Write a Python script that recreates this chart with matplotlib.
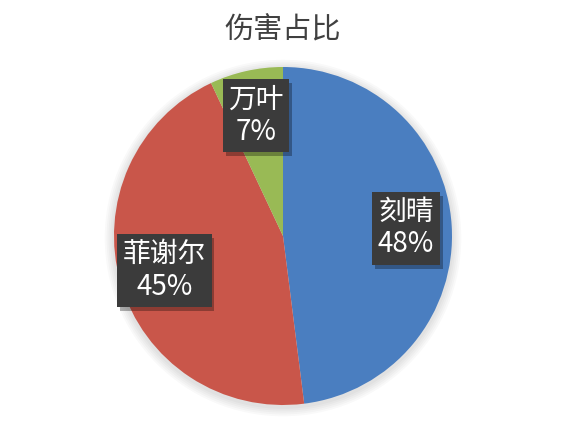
import matplotlib
matplotlib.use("Agg")
import matplotlib.pyplot as plt
import matplotlib.patches as mpatches
import matplotlib.patheffects as pe

plt.rcParams['font.family'] = ['Noto Sans CJK SC', 'DejaVu Sans']

title = "伤害占比"
names = ["刻晴", "菲谢尔", "万叶"]
values = [48, 45, 7]
colors = ["#4A7EC0", "#C9564A", "#99BA55"]

fig = plt.figure(figsize=(5.65, 4.23), dpi=100)
fig.patch.set_facecolor("white")

cx, cy, r = 283, 236, 169
W, H = 565, 423
ax = fig.add_axes([(cx - r) / W, (H - cy - r) / H, 2 * r / W, 2 * r / H])
ax.axis('off')

# soft glow around the pie
for i in range(5):
    c = mpatches.Circle((0.0, -0.012), 1.0 + 0.011 * (i + 1), facecolor="#000000",
                        edgecolor="none", alpha=0.022, zorder=0, clip_on=False)
    ax.add_patch(c)

labels = [f"{n}\n{v}%" for n, v in zip(names, values)]
wedges, texts = ax.pie(values, colors=colors, startangle=90, counterclock=False,
                       radius=1.0, labels=labels, labeldistance=0.73,
                       wedgeprops=dict(edgecolor="none", linewidth=0),
                       textprops=dict(color="white", fontsize=20, ha="center",
                                      va="center", linespacing=1.1))
for w in wedges:
    w.set_zorder(2)

ax.set_xlim(-1, 1)
ax.set_ylim(-1, 1)
ax.set_aspect('equal')

for t in texts:
    t.set_horizontalalignment("center")
    t.set_verticalalignment("center")
    t.set_bbox(dict(boxstyle="square,pad=0.2", facecolor="#3B3B3B", edgecolor="none"))
    t.set_zorder(5)
    t.get_bbox_patch().set_path_effects([
        pe.SimplePatchShadow(offset=(2, -3), shadow_rgbFace="black", alpha=0.3),
        pe.Normal()])

fig.text(283 / W, 1 - 30 / H, title, ha="center", va="center", fontsize=21,
         color="#404040", fontweight="light")

fig.savefig("out.png", dpi=100, facecolor="white")
